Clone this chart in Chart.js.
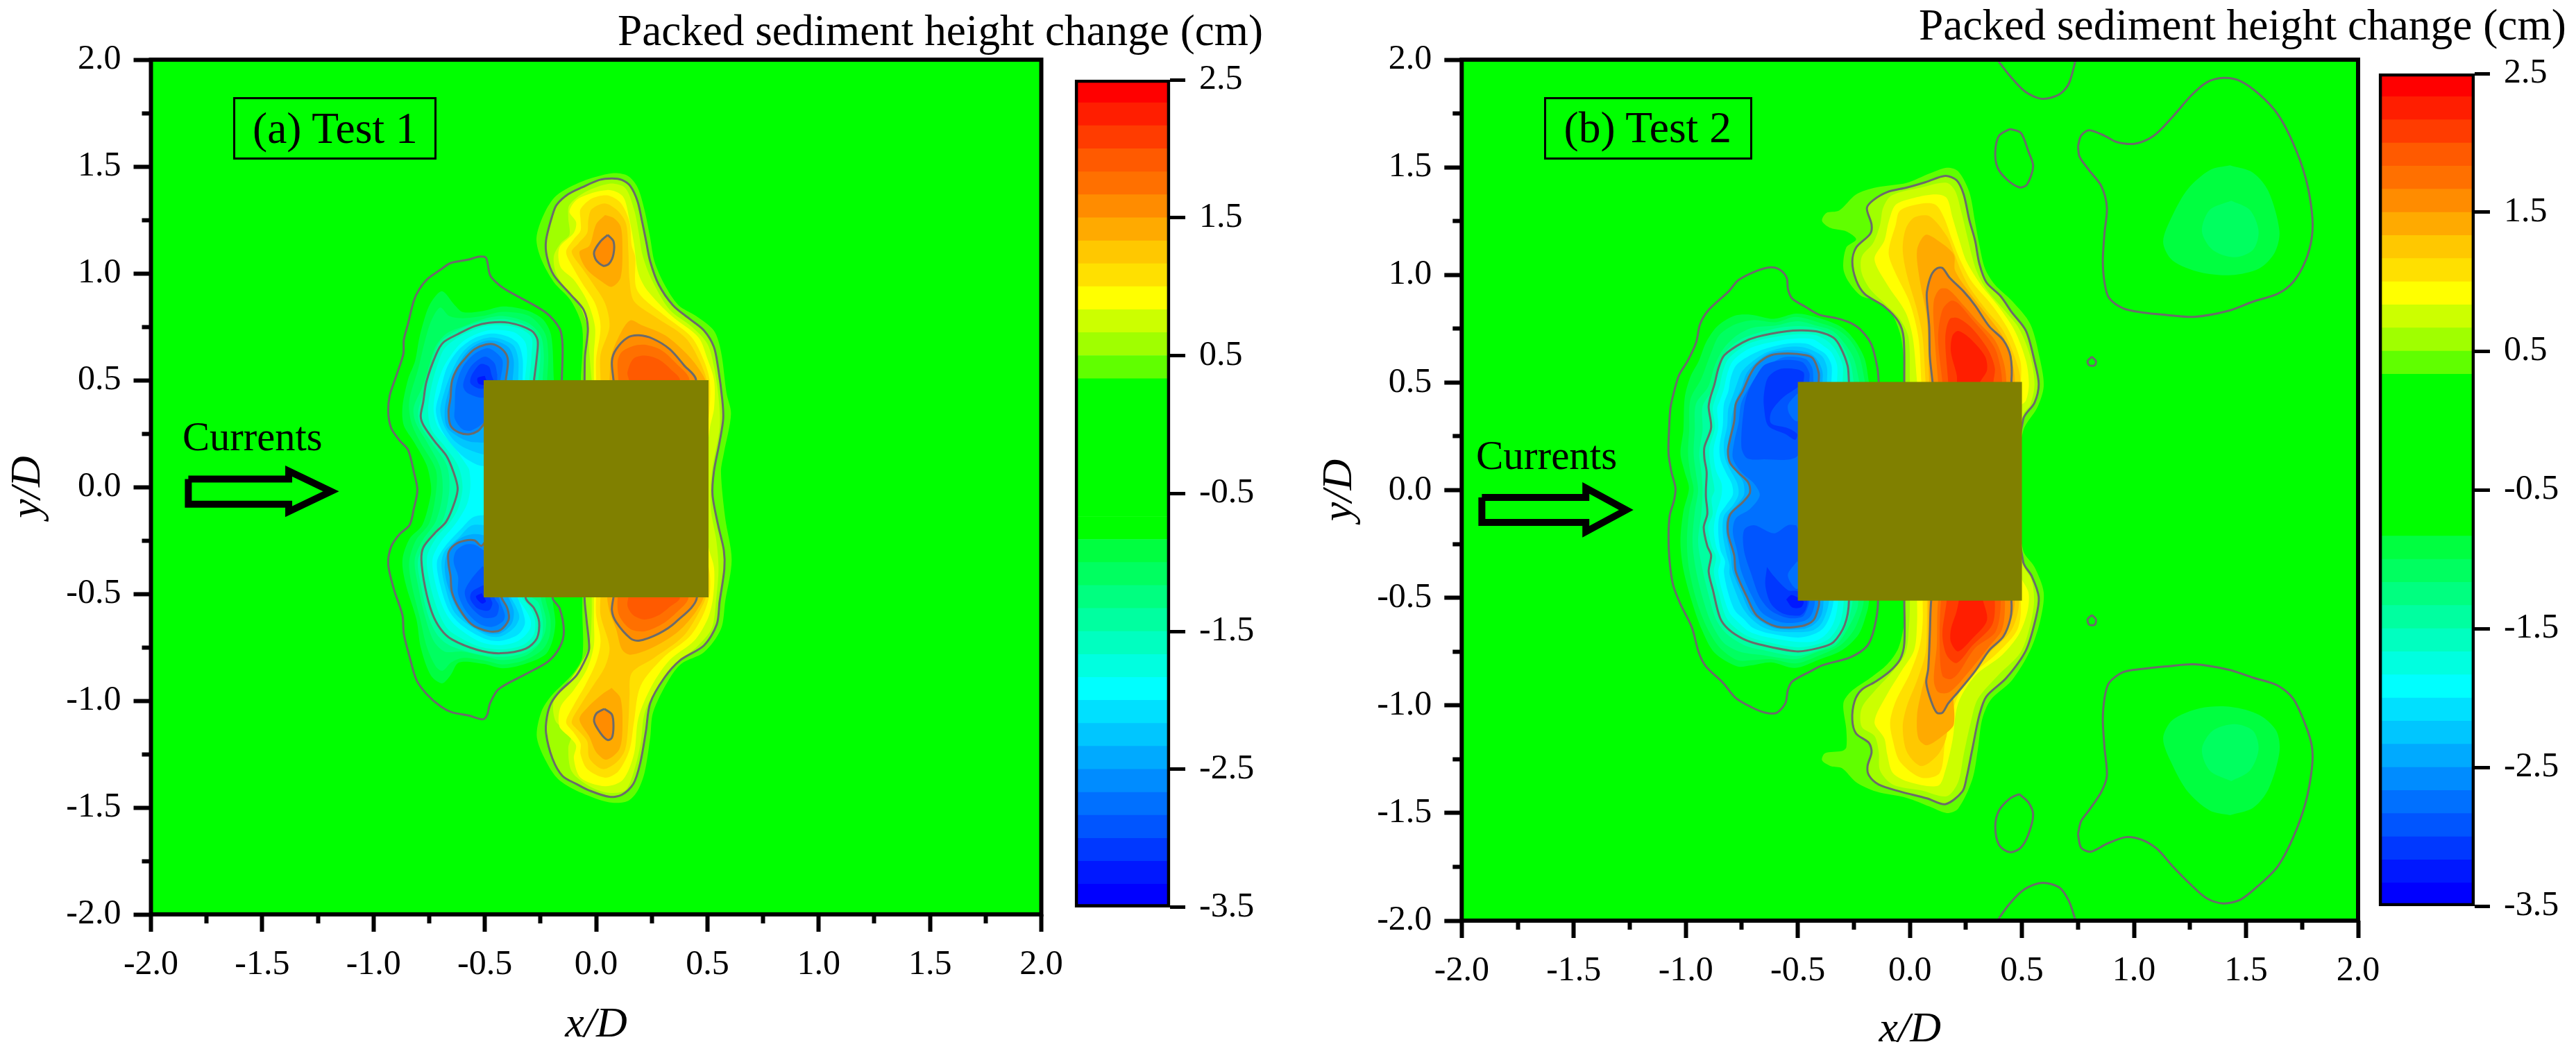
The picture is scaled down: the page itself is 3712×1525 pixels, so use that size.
<!DOCTYPE html>
<html>
<head>
<meta charset="utf-8">
<title>Packed sediment height change</title>
<script src="https://cdn.jsdelivr.net/npm/chart.js@4/dist/chart.umd.min.js"></script>
<style>
html, body { margin: 0; padding: 0; background: #fff; }
#page { position: relative; width: 3712px; height: 1525px; overflow: hidden; font-family: "Liberation Serif", serif; color: #000; }
#page canvas { position: absolute; }
.note { position: absolute; line-height: 1; white-space: nowrap; }
.tag { position: absolute; border: 3px solid #000; box-sizing: border-box; }
</style>
</head>
<body>
<div id="page"></div>
<script>
// axis ticks
var majorTicks = [-2, -1.5, -1, -0.5, 0, 0.5, 1, 1.5, 2];
var minorTicks = [-1.75, -1.25, -0.75, -0.25, 0.25, 0.75, 1.25, 1.75];
var colorbarTicks = [-3.5, -2.5, -1.5, -0.5, 0.5, 1.5, 2.5];

// colour bar, bottom to top
var bandEdges = [-3.5, -3.333, -3.167, -3, -2.833, -2.667, -2.5, -2.333, -2.167, -2, -1.833, -1.667, -1.5, -1.333, -1.167, -1, -0.833, -0.667, -0.5, -0.333, -0.167, 0, 0.167, 0.333, 0.5, 0.667, 0.833, 1, 1.167, 1.333, 1.5, 1.667, 1.833, 2, 2.167, 2.333, 2.5];
var bandColors = ['#0000ff', '#0018ff', '#0038ff', '#0055ff', '#0070ff', '#008cff', '#00aaff', '#00c6ff', '#00e0ff', '#00ffff', '#00ffe0', '#00ffc0', '#00ffa0', '#00ff80', '#00ff60', '#00ff40', '#00ff00', '#00ff00', '#00ff00', '#00ff00', '#00ff00', '#00ff00', '#00ff00', '#60ff00', '#a0ff00', '#ccff00', '#ffff00', '#ffe000', '#ffc800', '#ffaa00', '#ff8c00', '#ff7000', '#ff5a00', '#ff3c00', '#ff1e00', '#ff0000'];

// fill colour of each contour level, outermost first
var posColors = ['#60ff00', '#a0ff00', '#ccff00', '#ffff00', '#ffe000', '#ffc800', '#ffaa00', '#ff8c00', '#ff7000', '#ff5a00', '#ff3c00', '#ff1e00'];
var negColors = ['#00ff40', '#00ff60', '#00ff80', '#00ffa0', '#00ffc0', '#00ffe0', '#00ffff', '#00e0ff', '#00c6ff', '#00aaff', '#008cff', '#0070ff', '#0055ff', '#0038ff', '#0018ff'];

var fieldEdge = [[-2, -2], [2, -2], [2, 2], [-2, 2]];

// ---- Test 1 contours (x/D, y/D) ----
var aPos0333 = [[-.069,.5],[-.062,.742],[-.113,.872],[-.19,.959],[-.247,1.067],[-.268,1.165],[-.234,1.278],[-.177,1.365],[-.062,1.43],[.071,1.468],[.141,1.457],[.186,1.403],[.218,1.294],[.243,1.165],[.262,1.056],[.307,.948],[.37,.851],[.447,.802],[.529,.732],[.561,.634],[.586,.439],[.606,.342],[.574,.158],[.561,.071],[.58,-.145],[.609,-.34],[.58,-.535],[.561,-.664],[.485,-.773],[.383,-.827],[.326,-.903],[.256,-1.054],[.243,-1.173],[.218,-1.335],[.186,-1.422],[.141,-1.47],[.059,-1.476],[-.062,-1.433],[-.164,-1.373],[-.215,-1.303],[-.266,-1.173],[-.247,-1.054],[-.202,-.978],[-.101,-.87],[-.062,-.795],[-.062,-.578],[-.062,-.516]];
var aPos05 = [[-.052,.5],[-.05,.613],[-.037,.742],[-.056,.829],[-.113,.899],[-.19,.991],[-.221,1.078],[-.225,1.154],[-.196,1.273],[-.177,1.321],[-.126,1.37],[-.062,1.403],[.014,1.437],[.071,1.444],[.116,1.437],[.154,1.408],[.186,1.338],[.205,1.251],[.224,1.154],[.243,1.056],[.281,.948],[.345,.851],[.421,.786],[.485,.732],[.529,.656],[.548,.559],[.567,.407],[.571,.32],[.555,.212],[.529,.071],[.523,-.037],[.548,-.178],[.574,-.297],[.576,-.384],[.555,-.535],[.542,-.643],[.485,-.741],[.377,-.811],[.307,-.892],[.243,-1.011],[.224,-1.141],[.198,-1.293],[.167,-1.39],[.116,-1.44],[.06,-1.45],[-.031,-1.42],[-.088,-1.39],[-.151,-1.352],[-.196,-1.271],[-.225,-1.152],[-.221,-1.076],[-.202,-1.011],[-.164,-.957],[-.088,-.881],[-.043,-.795],[-.031,-.751],[-.043,-.622],[-.052,-.517]];
var aPos0667 = [[-.02,.5],[-.03,.62],[-.04,.75],[-.07,.84],[-.13,.92],[-.18,1.0],[-.19,1.08],[-.16,1.14],[-.12,1.18],[-.125,1.26],[-.12,1.32],[-.05,1.38],[.06,1.42],[.13,1.40],[.17,1.3],[.19,1.2],[.21,1.08],[.25,.97],[.33,.83],[.43,.75],[.50,.67],[.53,.56],[.55,.42],[.555,.28],[.52,.07],[.515,-.1],[.54,-.25],[.55,-.38],[.54,-.52],[.52,-.66],[.46,-.74],[.36,-.83],[.29,-.92],[.22,-1.05],[.20,-1.2],[.17,-1.33],[.13,-1.42],[.05,-1.43],[-.03,-1.40],[-.11,-1.33],[-.125,-1.22],[-.11,-1.15],[-.18,-1.10],[-.19,-1.0],[-.13,-.92],[-.07,-.83],[-.03,-.74],[-.02,-.6],[-.02,-.5]];
var aPos0833 = [[-.01,.5],[-.01,.62],[-.005,.75],[-.04,.87],[-.10,.97],[-.16,1.03],[-.165,1.12],[-.10,1.19],[-.09,1.24],[-.12,1.29],[-.08,1.35],[.05,1.39],[.12,1.36],[.15,1.25],[.17,1.14],[.19,1.0],[.23,.92],[.34,.80],[.46,.70],[.5,.60],[.53,.50],[.53,.37],[.51,.27],[.49,.07],[.49,-.1],[.505,-.28],[.53,-.38],[.525,-.52],[.50,-.62],[.44,-.72],[.33,-.81],[.25,-.93],[.19,-1.08],[.17,-1.25],[.12,-1.37],[.04,-1.40],[-.07,-1.36],[-.10,-1.27],[-.09,-1.21],[-.12,-1.17],[-.165,-1.12],[-.16,-1.03],[-.10,-.95],[-.04,-.85],[-.01,-.74],[-.01,-.62],[-.01,-.5]];
var aPos10 = [[0,.5],[0,.6],[.02,.75],[-.005,.86],[-.06,.95],[-.10,1.02],[-.135,1.10],[-.10,1.16],[-.07,1.20],[-.07,1.25],[-.07,1.30],[-.02,1.35],[.05,1.365],[.11,1.33],[.15,1.24],[.16,1.13],[.175,1.08],[.185,.92],[.31,.80],[.43,.70],[.485,.59],[.51,.50],[.51,.37],[.49,.2],[.46,0],[.48,-.25],[.51,-.40],[.51,-.5],[.48,-.6],[.42,-.70],[.30,-.8],[.2,-.93],[.17,-1.1],[.15,-1.23],[.10,-1.33],[.04,-1.36],[-.04,-1.32],[-.07,-1.25],[-.07,-1.2],[-.10,-1.15],[-.135,-1.10],[-.10,-1.02],[-.05,-.93],[0,-.82],[.02,-.72],[0,-.6],[0,-.5]];
var aPos1167 = [[.02,.5],[.02,.62],[.06,.75],[.04,.86],[-.02,.96],[-.06,1.02],[-.11,1.10],[-.08,1.14],[-.04,1.19],[-.035,1.25],[-.02,1.30],[.04,1.327],[.10,1.29],[.135,1.23],[.145,1.1],[.15,.97],[.17,.87],[.26,.80],[.40,.70],[.465,.59],[.50,.48],[.49,.3],[.45,0],[.47,-.3],[.495,-.5],[.46,-.59],[.39,-.70],[.26,-.80],[.16,-.87],[.15,-.98],[.145,-1.1],[.13,-1.23],[.09,-1.29],[.03,-1.32],[-.03,-1.27],[-.04,-1.19],[-.08,-1.14],[-.11,-1.10],[-.07,-1.02],[-.02,-.94],[.04,-.84],[.06,-.75],[.02,-.6],[.02,-.5]];
var aPos1333Top = [[.04,1.273],[0,1.23],[-.03,1.13],[-.075,1.10],[-.043,1.02],[.027,.96],[.07,.937],[.11,.98],[.118,1.13],[.11,1.22],[.078,1.26]];
var aPos1333Bot = [[.07,-.94],[.11,-.99],[.118,-1.14],[.103,-1.23],[.046,-1.276],[0,-1.24],[-.03,-1.17],[-.075,-1.087],[-.037,-1.03],[.027,-.97]];
var aPos1333Box = [[.06,.5],[.07,.62],[.115,.73],[.154,.78],[.2,.76],[.31,.71],[.41,.62],[.47,.54],[.495,.48],[.45,0],[.485,-.5],[.45,-.58],[.37,-.675],[.256,-.75],[.154,-.785],[.116,-.76],[.09,-.665],[.06,-.58],[.05,-.5],[.1,0]];
var aPos15Top = [[.052,1.18],[.078,1.15],[.078,1.09],[.059,1.046],[.033,1.035],[0,1.062],[-.009,1.10],[.02,1.15]];
var aPos15Bot = [[.037,-1.038],[.071,-1.065],[.078,-1.119],[.071,-1.173],[.052,-1.184],[.02,-1.152],[-.009,-1.097],[.001,-1.06]];
var aPos15Box = [[.078,.5],[.071,.59],[.09,.645],[.141,.699],[.192,.71],[.255,.694],[.331,.645],[.395,.57],[.449,.5],[.43,0],[.453,-.516],[.358,-.632],[.281,-.686],[.192,-.719],[.154,-.708],[.09,-.632],[.071,-.578],[.078,-.516],[.15,0]];
var aPos1667 = [[.1,.5],[.097,.59],[.116,.633],[.166,.66],[.218,.666],[.294,.64],[.358,.58],[.42,.5],[.40,0],[.415,-.516],[.358,-.59],[.294,-.643],[.218,-.675],[.154,-.665],[.103,-.6],[.097,-.516],[.15,0]];
var aPos1833 = [[.148,.5],[.141,.537],[.167,.60],[.218,.615],[.281,.597],[.338,.548],[.377,.5],[.36,0],[.377,-.516],[.332,-.56],[.281,-.6],[.218,-.62],[.167,-.6],[.141,-.556],[.148,-.5],[.2,0]];

var aNeg0833 = [[-.19,.5],[-.202,.71],[-.24,.786],[-.317,.829],[-.419,.845],[-.508,.824],[-.597,.818],[-.635,.851],[-.692,.916],[-.737,.872],[-.762,.818],[-.794,.699],[-.813,.591],[-.845,.504],[-.87,.374],[-.864,.288],[-.819,.212],[-.762,.104],[-.743,.017],[-.743,-.037],[-.781,-.178],[-.838,-.242],[-.87,-.34],[-.857,-.448],[-.807,-.621],[-.788,-.751],[-.743,-.881],[-.692,-.919],[-.654,-.881],[-.616,-.821],[-.508,-.827],[-.419,-.848],[-.317,-.827],[-.228,-.784],[-.196,-.719],[-.183,-.632],[-.196,-.516]];
var aNeg05 = [[-.154,.5],[-.151,.667],[-.164,.742],[-.228,.818],[-.393,.916],[-.438,.948],[-.476,.991],[-.495,1.073],[-.527,1.078],[-.571,1.065],[-.654,1.048],[-.698,1.018],[-.756,.975],[-.794,.926],[-.819,.872],[-.845,.764],[-.864,.688],[-.866,.623],[-.896,.526],[-.927,.429],[-.934,.353],[-.921,.277],[-.883,.218],[-.845,.174],[-.819,.071],[-.803,-.015],[-.819,-.102],[-.838,-.178],[-.883,-.221],[-.921,-.28],[-.934,-.361],[-.908,-.48],[-.87,-.6],[-.864,-.686],[-.838,-.795],[-.807,-.903],[-.762,-.968],[-.698,-1.027],[-.648,-1.054],[-.571,-1.07],[-.508,-1.087],[-.489,-1.065],[-.476,-1.011],[-.438,-.946],[-.317,-.876],[-.215,-.816],[-.164,-.751],[-.145,-.675],[-.164,-.567],[-.196,-.516]];
var aNeg10 = [[-.22,.5],[-.215,.62],[-.23,.72],[-.30,.80],[-.42,.82],[-.51,.80],[-.60,.79],[-.66,.80],[-.70,.84],[-.74,.78],[-.77,.68],[-.80,.55],[-.84,.40],[-.83,.30],[-.79,.21],[-.72,.08],[-.72,-.03],[-.75,-.17],[-.81,-.25],[-.84,-.35],[-.83,-.45],[-.79,-.62],[-.76,-.75],[-.72,-.84],[-.69,-.86],[-.65,-.82],[-.60,-.80],[-.51,-.81],[-.42,-.83],[-.32,-.81],[-.24,-.76],[-.21,-.70],[-.205,-.62],[-.23,-.5]];
var aNeg1167 = [[-.24,.5],[-.235,.62],[-.25,.71],[-.31,.77],[-.42,.80],[-.51,.785],[-.60,.75],[-.67,.72],[-.72,.66],[-.75,.57],[-.78,.47],[-.82,.37],[-.81,.30],[-.76,.21],[-.70,.09],[-.69,-.03],[-.72,-.16],[-.78,-.25],[-.815,-.34],[-.80,-.46],[-.77,-.60],[-.73,-.72],[-.68,-.77],[-.60,-.77],[-.51,-.79],[-.42,-.81],[-.32,-.79],[-.26,-.74],[-.23,-.68],[-.225,-.62],[-.25,-.5]];
var aNeg1333 = [[-.26,.5],[-.25,.62],[-.26,.70],[-.30,.75],[-.40,.785],[-.49,.78],[-.55,.765],[-.63,.73],[-.70,.68],[-.735,.60],[-.77,.46],[-.80,.35],[-.79,.29],[-.74,.21],[-.67,.10],[-.66,-.02],[-.69,-.16],[-.75,-.24],[-.80,-.34],[-.785,-.47],[-.755,-.60],[-.715,-.69],[-.66,-.74],[-.54,-.78],[-.43,-.795],[-.32,-.775],[-.25,-.72],[-.24,-.63],[-.26,-.54],[-.3,-.5]];
var aNeg15 = [[-.279,.5],[-.266,.613],[-.263,.688],[-.291,.732],[-.393,.769],[-.482,.769],[-.546,.753],[-.622,.715],[-.686,.677],[-.718,.623],[-.762,.494],[-.777,.396],[-.788,.331],[-.775,.288],[-.724,.212],[-.673,.147],[-.641,.071],[-.622,-.005],[-.635,-.069],[-.673,-.161],[-.724,-.215],[-.775,-.28],[-.785,-.34],[-.768,-.47],[-.737,-.589],[-.698,-.665],[-.648,-.713],[-.533,-.762],[-.431,-.778],[-.317,-.757],[-.266,-.708],[-.256,-.632],[-.279,-.567],[-.317,-.516]];
var aNeg1667 = [[-.30,.5],[-.29,.62],[-.29,.70],[-.34,.74],[-.40,.755],[-.49,.755],[-.55,.735],[-.62,.70],[-.68,.65],[-.71,.58],[-.74,.47],[-.755,.36],[-.74,.27],[-.68,.19],[-.62,.10],[-.60,0],[-.62,-.10],[-.66,-.17],[-.72,-.24],[-.76,-.33],[-.745,-.46],[-.71,-.58],[-.67,-.66],[-.62,-.70],[-.53,-.745],[-.43,-.76],[-.33,-.74],[-.28,-.69],[-.275,-.62],[-.30,-.56],[-.34,-.5]];
var aNeg1833 = [[-.32,.5],[-.31,.62],[-.32,.68],[-.37,.725],[-.47,.735],[-.54,.715],[-.60,.68],[-.65,.62],[-.69,.55],[-.72,.45],[-.73,.36],[-.71,.28],[-.64,.19],[-.58,.10],[-.57,.08],[-.565,0],[-.58,-.08],[-.63,-.17],[-.70,-.26],[-.735,-.34],[-.72,-.46],[-.68,-.58],[-.63,-.65],[-.52,-.725],[-.43,-.74],[-.35,-.72],[-.30,-.67],[-.295,-.62],[-.34,-.54],[-.38,-.5]];
var aNeg20Top = [[-.33,.5],[-.33,.6],[-.35,.67],[-.40,.705],[-.47,.718],[-.55,.695],[-.62,.64],[-.67,.56],[-.70,.45],[-.72,.36],[-.70,.28],[-.65,.2],[-.58,.13],[-.50,.10],[-.45,.2]];
var aNeg20Bot = [[-.48,-.13],[-.55,-.14],[-.61,-.20],[-.68,-.28],[-.715,-.35],[-.70,-.46],[-.66,-.58],[-.60,-.65],[-.50,-.71],[-.43,-.72],[-.35,-.69],[-.32,-.64],[-.33,-.58],[-.36,-.5],[-.45,-.3]];
var aNeg2167Top = [[-.35,.5],[-.35,.6],[-.37,.66],[-.42,.69],[-.48,.70],[-.55,.675],[-.60,.63],[-.64,.56],[-.68,.45],[-.70,.36],[-.68,.28],[-.63,.21],[-.56,.17],[-.48,.16]];
var aNeg2167Bot = [[-.48,-.18],[-.56,-.18],[-.62,-.24],[-.68,-.30],[-.695,-.36],[-.68,-.46],[-.64,-.58],[-.58,-.64],[-.49,-.695],[-.43,-.70],[-.37,-.66],[-.345,-.61],[-.36,-.56],[-.39,-.5]];
var aNeg2333Top = [[-.375,.5],[-.37,.59],[-.39,.65],[-.44,.68],[-.49,.685],[-.55,.66],[-.59,.62],[-.63,.55],[-.66,.46],[-.68,.36],[-.67,.28],[-.61,.23],[-.55,.21],[-.48,.22]];
var aNeg2333Bot = [[-.48,-.23],[-.55,-.22],[-.61,-.24],[-.66,-.29],[-.68,-.36],[-.67,-.45],[-.63,-.56],[-.57,-.64],[-.49,-.685],[-.43,-.685],[-.38,-.64],[-.37,-.58],[-.40,-.5]];
var aNeg25Top = [[-.406,.5],[-.396,.591],[-.412,.634],[-.457,.667],[-.495,.667],[-.546,.645],[-.584,.607],[-.622,.558],[-.648,.494],[-.654,.418],[-.663,.353],[-.654,.288],[-.616,.255],[-.571,.247],[-.533,.261],[-.509,.288],[-.47,.35]];
var aNeg25Bot = [[-.47,-.2],[-.514,-.275],[-.546,-.25],[-.59,-.251],[-.635,-.27],[-.663,-.307],[-.663,-.361],[-.654,-.416],[-.648,-.491],[-.616,-.567],[-.559,-.643],[-.482,-.675],[-.431,-.67],[-.393,-.621],[-.399,-.567],[-.425,-.516],[-.45,-.4]];
var aNeg2667Top = [[-.43,.5],[-.42,.59],[-.45,.63],[-.49,.65],[-.55,.62],[-.6,.56],[-.63,.47],[-.635,.37],[-.635,.32],[-.6,.27],[-.56,.265],[-.5,.31]];
var aNeg2667Bot = [[-.5,-.30],[-.545,-.27],[-.59,-.27],[-.63,-.30],[-.64,-.35],[-.62,-.42],[-.62,-.50],[-.585,-.58],[-.525,-.64],[-.47,-.655],[-.42,-.63],[-.41,-.6],[-.43,-.54]];
var aNeg2833Top = [[-.444,.526],[-.457,.58],[-.50,.61],[-.558,.57],[-.59,.51],[-.597,.47],[-.578,.44],[-.509,.418],[-.45,.45]];
var aNeg2833Bot = [[-.51,-.37],[-.558,-.427],[-.59,-.49],[-.571,-.55],[-.508,-.61],[-.45,-.605],[-.437,-.556],[-.457,-.516],[-.47,-.42]];
var aNeg30Top = [[-.47,.526],[-.482,.564],[-.52,.575],[-.558,.526],[-.565,.488],[-.54,.466],[-.509,.46],[-.46,.48]];
var aNeg30Bot = [[-.509,-.46],[-.558,-.49],[-.565,-.524],[-.533,-.567],[-.482,-.578],[-.466,-.545],[-.476,-.516],[-.47,-.47]];
var aNeg3167Top = [[-.50,.52],[-.533,.51],[-.527,.483],[-.49,.48]];
var aNeg3167Bot = [[-.514,-.497],[-.54,-.513],[-.514,-.545],[-.495,-.535]];

var aPosLevels = [[aPos0333], [aPos05], [aPos0667], [aPos0833], [aPos10], [aPos1167], [aPos1333Top, aPos1333Bot, aPos1333Box], [aPos15Top, aPos15Bot, aPos15Box], [aPos1667], [aPos1833]];
var aNegLevels = [[aNeg0833], [aNeg10], [aNeg1167], [aNeg1333], [aNeg15], [aNeg1667], [aNeg1833], [aNeg20Top, aNeg20Bot], [aNeg2167Top, aNeg2167Bot], [aNeg2333Top, aNeg2333Bot], [aNeg25Top, aNeg25Bot], [aNeg2667Top, aNeg2667Bot], [aNeg2833Top, aNeg2833Bot], [aNeg30Top, aNeg30Bot], [aNeg3167Top, aNeg3167Bot]];
var aLines = [aPos05, aPos15Top, aPos15Bot, aPos15Box, aNeg05, aNeg15, aNeg25Top, aNeg25Bot];
var aSquare = [[-.505, -.516], [.505, -.516], [.505, .5], [-.505, .5]];
var aArrow = [[-1.832, .037], [-1.381, .037], [-1.381, .075], [-1.191, -.02], [-1.381, -.115], [-1.381, -.08], [-1.832, -.08]];

// ---- Test 2 contours ----
var bPos0333 = [[-.019,.503],[-.044,.729],[-.114,.869],[-.215,.901],[-.272,.966],[-.297,1.03],[-.284,1.127],[-.24,1.165],[-.284,1.202],[-.354,1.218],[-.392,1.251],[-.373,1.288],[-.316,1.299],[-.24,1.374],[-.152,1.406],[-.013,1.428],[.088,1.471],[.164,1.498],[.215,1.482],[.265,1.385],[.291,1.245],[.31,1.138],[.335,1.03],[.379,.955],[.455,.88],[.537,.772],[.582,.6],[.597,.482],[.569,.385],[.506,.277],[.47,0],[.506,-.282],[.556,-.357],[.597,-.475],[.582,-.604],[.537,-.744],[.455,-.884],[.36,-.975],[.322,-1.067],[.303,-1.206],[.278,-1.346],[.215,-1.48],[.164,-1.5],[.088,-1.47],[-.013,-1.43],[-.152,-1.40],[-.24,-1.357],[-.303,-1.292],[-.354,-1.282],[-.392,-1.255],[-.379,-1.222],[-.303,-1.212],[-.284,-1.196],[-.284,-1.11],[-.297,-.991],[-.265,-.938],[-.177,-.873],[-.101,-.809],[-.051,-.733],[-.025,-.615],[-.019,-.513]];
var bPos05 = [[-.025,.503],[-.028,.708],[-.051,.783],[-.114,.853],[-.202,.912],[-.24,.976],[-.257,1.062],[-.24,1.127],[-.177,1.191],[-.171,1.234],[-.192,1.31],[-.164,1.347],[-.101,1.385],[-.013,1.406],[.076,1.433],[.158,1.46],[.209,1.439],[.24,1.374],[.265,1.256],[.291,1.159],[.31,1.052],[.341,.966],[.405,.901],[.455,.826],[.518,.74],[.556,.6],[.575,.492],[.556,.406],[.506,.331],[.47,0],[.506,-.335],[.544,-.4],[.575,-.497],[.562,-.594],[.518,-.744],[.43,-.873],[.341,-.959],[.31,-1.045],[.278,-1.206],[.253,-1.335],[.234,-1.4],[.158,-1.459],[.076,-1.432],[-.044,-1.4],[-.139,-1.368],[-.183,-1.325],[-.189,-1.282],[-.171,-1.217],[-.183,-1.174],[-.24,-1.131],[-.257,-1.067],[-.247,-.981],[-.215,-.927],[-.152,-.889],[-.089,-.841],[-.044,-.787],[-.025,-.712],[-.025,-.513]];
var bPos0667 = [[0,.503],[-.006,.708],[-.044,.794],[-.114,.869],[-.177,.933],[-.215,1.009],[-.215,1.084],[-.164,1.148],[-.133,1.234],[-.12,1.31],[-.082,1.369],[.051,1.406],[.164,1.428],[.202,1.39],[.228,1.299],[.253,1.191],[.278,1.084],[.297,1.019],[.341,.933],[.43,.826],[.487,.751],[.537,.622],[.556,.492],[.537,.396],[.506,.353],[.47,0],[.506,-.346],[.544,-.42],[.554,-.518],[.537,-.626],[.493,-.755],[.392,-.862],[.303,-.97],[.272,-1.077],[.24,-1.228],[.215,-1.357],[.164,-1.422],[.051,-1.395],[-.076,-1.368],[-.133,-1.303],[-.139,-1.217],[-.158,-1.142],[-.215,-1.099],[-.215,-1.013],[-.152,-.927],[-.076,-.841],[-.019,-.755],[-.003,-.615],[0,-.513]];
var bPos0833 = [[.032,.503],[.013,.708],[-.019,.826],[-.101,.955],[-.158,1.073],[-.114,1.159],[-.095,1.245],[-.063,1.326],[.019,1.358],[.114,1.374],[.164,1.358],[.19,1.267],[.221,1.159],[.253,1.062],[.316,.955],[.392,.858],[.468,.74],[.518,.6],[.531,.492],[.518,.417],[.49,.385],[.45,0],[.49,-.389],[.529,-.475],[.525,-.561],[.487,-.669],[.411,-.766],[.291,-.862],[.215,-.991],[.19,-1.163],[.158,-1.303],[.126,-1.373],[0,-1.357],[-.076,-1.314],[-.101,-1.228],[-.114,-1.153],[-.158,-1.077],[-.101,-.948],[-.038,-.841],[.019,-.744],[.032,-.615],[.032,-.513]];
var bPos10 = [[.051,.503],[.038,.708],[0,.869],[-.069,1.019],[-.095,1.105],[-.063,1.234],[-.044,1.299],[.051,1.331],[.114,1.326],[.152,1.267],[.19,1.159],[.228,1.062],[.278,.966],[.367,.858],[.442,.74],[.493,.6],[.495,.503],[.44,0],[.495,-.518],[.48,-.647],[.392,-.755],[.253,-.884],[.19,-1.024],[.158,-1.163],[.133,-1.314],[.051,-1.336],[-.044,-1.262],[-.076,-1.163],[-.088,-1.077],[-.063,-.981],[0,-.852],[.044,-.723],[.057,-.615],[.057,-.513]];
var bPos1167 = [[.07,.503],[.057,.708],[.032,.837],[-.013,.998],[-.032,1.116],[-.019,1.213],[.019,1.267],[.088,1.272],[.164,1.181],[.196,1.105],[.228,1.019],[.265,.944],[.341,.837],[.417,.74],[.474,.6],[.493,.503],[.43,0],[.487,-.513],[.455,-.647],[.367,-.744],[.24,-.873],[.177,-.991],[.164,-1.142],[.126,-1.228],[.051,-1.282],[-.013,-1.217],[-.032,-1.099],[-.013,-1.002],[.032,-.884],[.07,-.755],[.076,-.615],[.076,-.513]];
var bPos1333 = [[.086,.503],[.076,.794],[.044,.976],[.032,1.116],[.07,1.186],[.126,1.159],[.196,1.095],[.202,1.019],[.278,.901],[.367,.783],[.424,.697],[.455,.6],[.468,.503],[.42,0],[.468,-.513],[.43,-.658],[.341,-.744],[.202,-.884],[.196,-1.088],[.152,-1.137],[.076,-1.185],[.038,-1.153],[.032,-1.045],[.051,-.938],[.076,-.83],[.082,-.669],[.082,-.513]];
var bPos15 = [[.101,.503],[.089,.622],[.086,.762],[.076,.88],[.076,.923],[.095,.998],[.12,1.03],[.145,1.032],[.177,.987],[.24,.923],[.291,.858],[.354,.761],[.417,.697],[.449,.622],[.453,.503],[.41,0],[.453,-.513],[.449,-.594],[.417,-.68],[.354,-.744],[.291,-.841],[.215,-.938],[.171,-.991],[.145,-1.034],[.12,-1.034],[.095,-.981],[.073,-.895],[.082,-.83],[.089,-.669],[.095,-.513],[.15,0]];
var bPos1667 = [[.126,.503],[.107,.762],[.107,.88],[.133,.933],[.171,.933],[.24,.858],[.303,.783],[.379,.697],[.417,.6],[.43,.503],[.4,0],[.424,-.513],[.411,-.647],[.348,-.733],[.265,-.841],[.177,-.938],[.126,-.938],[.107,-.884],[.12,-.723],[.126,-.513],[.2,0]];
var bPos1833 = [[.145,.503],[.126,.708],[.145,.837],[.183,.88],[.215,.869],[.278,.793],[.341,.718],[.386,.643],[.411,.503],[.38,0],[.405,-.513],[.382,-.658],[.291,-.733],[.215,-.852],[.183,-.878],[.145,-.862],[.133,-.723],[.139,-.513],[.2,0]];
var bPos20 = [[.171,.503],[.158,.708],[.177,.794],[.215,.799],[.278,.751],[.348,.654],[.379,.568],[.373,.503],[.35,0],[.379,-.513],[.367,-.626],[.278,-.723],[.209,-.803],[.164,-.766],[.145,-.669],[.164,-.513],[.2,0]];
var bPos2167 = [[.21,.49],[.209,.535],[.183,.643],[.19,.718],[.215,.74],[.265,.708],[.335,.622],[.344,.557],[.31,.49],[.3,0],[.322,-.49],[.344,-.604],[.278,-.69],[.215,-.749],[.183,-.706],[.183,-.647],[.209,-.561],[.221,-.49],[.25,0]];

var bNeg0833 = [[-.183,.503],[-.202,.611],[-.247,.697],[-.303,.756],[-.405,.799],[-.506,.82],[-.607,.796],[-.708,.815],[-.784,.81],[-.86,.761],[-.91,.686],[-.942,.6],[-.98,.525],[-1.005,.428],[-1.011,.277],[-1.024,.17],[-1.005,.084],[-.986,.009],[-1.011,-.099],[-1.024,-.239],[-1.011,-.368],[-.973,-.518],[-.929,-.647],[-.872,-.755],[-.771,-.819],[-.708,-.814],[-.619,-.8],[-.512,-.826],[-.405,-.787],[-.303,-.744],[-.228,-.669],[-.19,-.561],[-.183,-.513]];
var bNeg05 = [[-.139,.503],[-.145,.568],[-.171,.675],[-.215,.74],[-.265,.777],[-.329,.799],[-.405,.815],[-.468,.853],[-.525,.89],[-.544,.933],[-.55,.987],[-.582,1.025],[-.626,1.035],[-.683,1.019],[-.765,.976],[-.809,.923],[-.898,.837],[-.936,.772],[-.954,.686],[-.992,.6],[-1.03,.535],[-1.049,.471],[-1.068,.385],[-1.075,.277],[-1.077,.17],[-1.064,.084],[-1.046,.009],[-1.052,-.045],[-1.072,-.12],[-1.077,-.217],[-1.072,-.335],[-1.056,-.443],[-1.024,-.529],[-.973,-.637],[-.942,-.755],[-.91,-.819],[-.834,-.895],[-.778,-.965],[-.708,-1.008],[-.645,-1.034],[-.594,-1.034],[-.556,-.991],[-.544,-.927],[-.525,-.889],[-.442,-.841],[-.392,-.814],[-.265,-.776],[-.19,-.723],[-.158,-.637],[-.142,-.513]];
var bNeg10 = [[-.2,.5],[-.225,.62],[-.27,.70],[-.33,.75],[-.41,.78],[-.51,.805],[-.60,.78],[-.70,.79],[-.78,.77],[-.85,.72],[-.89,.63],[-.93,.52],[-.98,.42],[-.985,.28],[-.99,.17],[-.98,.08],[-.965,0],[-.985,-.1],[-.995,-.24],[-.985,-.37],[-.95,-.52],[-.905,-.64],[-.85,-.73],[-.77,-.79],[-.70,-.79],[-.62,-.785],[-.51,-.805],[-.41,-.77],[-.31,-.72],[-.25,-.65],[-.215,-.56],[-.205,-.5]];
var bNeg1167 = [[-.225,.5],[-.25,.61],[-.29,.68],[-.345,.74],[-.42,.765],[-.50,.785],[-.60,.765],[-.70,.755],[-.77,.72],[-.83,.66],[-.87,.58],[-.90,.48],[-.955,.40],[-.96,.28],[-.965,.17],[-.955,.08],[-.945,0],[-.96,-.1],[-.97,-.24],[-.955,-.37],[-.925,-.50],[-.885,-.62],[-.83,-.71],[-.76,-.75],[-.67,-.765],[-.51,-.785],[-.41,-.75],[-.33,-.72],[-.27,-.63],[-.235,-.55],[-.23,-.5]];
var bNeg1333 = [[-.25,.5],[-.265,.59],[-.30,.67],[-.345,.72],[-.41,.75],[-.49,.762],[-.58,.755],[-.68,.73],[-.755,.70],[-.825,.64],[-.855,.57],[-.88,.47],[-.925,.39],[-.925,.28],[-.94,.17],[-.93,.08],[-.925,0],[-.93,-.1],[-.945,-.24],[-.925,-.37],[-.90,-.48],[-.865,-.60],[-.815,-.67],[-.74,-.72],[-.67,-.74],[-.51,-.77],[-.41,-.745],[-.33,-.71],[-.28,-.62],[-.255,-.5]];
var bNeg15 = [[-.272,.503],[-.278,.578],[-.31,.664],[-.341,.708],[-.405,.735],[-.48,.742],[-.55,.738],[-.683,.712],[-.746,.686],[-.828,.627],[-.854,.568],[-.872,.492],[-.891,.428],[-.898,.385],[-.887,.29],[-.917,.2],[-.917,.148],[-.907,.084],[-.91,.009],[-.91,-.034],[-.904,-.11],[-.92,-.174],[-.904,-.26],[-.887,-.303],[-.898,-.378],[-.879,-.464],[-.847,-.594],[-.809,-.647],[-.746,-.69],[-.67,-.717],[-.506,-.749],[-.405,-.733],[-.341,-.706],[-.291,-.626],[-.272,-.513]];
var bNeg1667 = [[-.30,.5],[-.30,.58],[-.33,.65],[-.365,.69],[-.42,.72],[-.48,.725],[-.55,.72],[-.68,.695],[-.74,.67],[-.81,.61],[-.835,.55],[-.85,.48],[-.87,.42],[-.88,.38],[-.87,.29],[-.895,.2],[-.895,.15],[-.885,.08],[-.872,0],[-.885,-.04],[-.88,-.11],[-.90,-.17],[-.885,-.26],[-.865,-.31],[-.875,-.38],[-.855,-.47],[-.825,-.58],[-.79,-.63],[-.73,-.675],[-.66,-.70],[-.50,-.73],[-.41,-.715],[-.355,-.685],[-.31,-.61],[-.295,-.5]];
var bNeg1833 = [[-.325,.5],[-.325,.58],[-.35,.64],[-.385,.67],[-.43,.70],[-.48,.705],[-.55,.70],[-.67,.675],[-.73,.65],[-.79,.60],[-.815,.54],[-.83,.47],[-.85,.41],[-.86,.38],[-.855,.29],[-.875,.2],[-.875,.15],[-.865,.09],[-.84,.03],[-.84,-.02],[-.85,-.06],[-.865,-.11],[-.875,-.18],[-.865,-.26],[-.845,-.32],[-.855,-.38],[-.835,-.48],[-.805,-.57],[-.77,-.61],[-.72,-.655],[-.65,-.68],[-.50,-.705],[-.42,-.70],[-.37,-.665],[-.335,-.60],[-.32,-.5]];
var bNeg20 = [[-.35,.5],[-.35,.58],[-.375,.63],[-.41,.655],[-.46,.68],[-.55,.68],[-.65,.655],[-.715,.625],[-.775,.58],[-.80,.52],[-.81,.46],[-.83,.40],[-.835,.30],[-.85,.2],[-.845,.14],[-.82,.08],[-.795,.03],[-.79,-.02],[-.82,-.07],[-.85,-.12],[-.855,-.2],[-.845,-.28],[-.825,-.33],[-.83,-.38],[-.81,-.48],[-.78,-.56],[-.74,-.6],[-.70,-.64],[-.63,-.665],[-.50,-.685],[-.43,-.67],[-.385,-.64],[-.355,-.58],[-.34,-.5]];
var bNeg2167 = [[-.37,.5],[-.37,.57],[-.39,.62],[-.425,.645],[-.48,.665],[-.55,.665],[-.64,.64],[-.70,.60],[-.75,.55],[-.77,.50],[-.79,.44],[-.81,.38],[-.815,.30],[-.83,.22],[-.825,.15],[-.80,.09],[-.77,.03],[-.765,-.02],[-.79,-.07],[-.83,-.12],[-.835,-.2],[-.82,-.29],[-.805,-.35],[-.805,-.39],[-.775,-.48],[-.75,-.54],[-.715,-.59],[-.66,-.635],[-.60,-.655],[-.49,-.66],[-.43,-.65],[-.395,-.62],[-.37,-.56],[-.36,-.5]];
var bNeg2333 = [[-.39,.5],[-.39,.55],[-.41,.60],[-.445,.635],[-.50,.648],[-.55,.65],[-.63,.635],[-.69,.59],[-.73,.54],[-.75,.48],[-.775,.42],[-.795,.34],[-.80,.28],[-.815,.2],[-.81,.15],[-.785,.1],[-.745,.04],[-.74,-.02],[-.77,-.065],[-.815,-.12],[-.82,-.2],[-.80,-.30],[-.79,-.38],[-.75,-.48],[-.71,-.57],[-.65,-.62],[-.59,-.645],[-.48,-.645],[-.43,-.625],[-.395,-.58],[-.385,-.5]];
var bNeg25 = [[-.407,.503],[-.407,.546],[-.432,.611],[-.464,.627],[-.544,.635],[-.62,.627],[-.683,.584],[-.714,.535],[-.746,.46],[-.777,.401],[-.784,.32],[-.803,.235],[-.812,.181],[-.803,.127],[-.768,.084],[-.721,.035],[-.714,-.013],[-.746,-.056],[-.803,-.115],[-.812,-.196],[-.784,-.303],[-.777,-.378],[-.727,-.497],[-.683,-.583],[-.594,-.634],[-.48,-.631],[-.43,-.604],[-.407,-.54],[-.405,-.513]];
var bNeg2667 = [[-.43,.503],[-.436,.568],[-.468,.611],[-.569,.616],[-.67,.546],[-.708,.492],[-.752,.406],[-.765,.31],[-.784,.224],[-.79,.148],[-.752,.084],[-.695,.03],[-.67,-.024],[-.714,-.088],[-.777,-.131],[-.79,-.196],[-.771,-.282],[-.752,-.378],[-.708,-.486],[-.657,-.572],[-.569,-.615],[-.48,-.61],[-.442,-.583],[-.424,-.513]];
var bNeg2833Top = [[-.449,.503],[-.449,.546],[-.48,.595],[-.556,.605],[-.645,.584],[-.683,.535],[-.721,.46],[-.74,.385],[-.752,.202],[-.727,.148],[-.657,.143],[-.507,.154],[-.45,.3]];
var bNeg2833Bot = [[-.507,-.163],[-.544,-.163],[-.607,-.201],[-.695,-.163],[-.74,-.185],[-.74,-.282],[-.708,-.389],[-.67,-.497],[-.619,-.561],[-.544,-.594],[-.48,-.588],[-.458,-.551],[-.449,-.513],[-.45,-.3]];
var bRiseTop = [[-.503,.449],[-.544,.396],[-.537,.353],[-.503,.32],[-.45,.39]];
var bRiseBot = [[-.503,-.33],[-.544,-.389],[-.531,-.432],[-.503,-.459],[-.45,-.39]];
var bNeg30Top = [[-.474,.503],[-.474,.546],[-.506,.562],[-.582,.562],[-.632,.525],[-.651,.449],[-.651,.385],[-.632,.299],[-.556,.261],[-.512,.234],[-.503,.261],[-.544,.288],[-.619,.31],[-.619,.363],[-.569,.428],[-.503,.476]];
var bNeg30Bot = [[-.638,-.357],[-.645,-.443],[-.619,-.529],[-.569,-.572],[-.493,-.583],[-.468,-.561],[-.458,-.513],[-.5,-.47],[-.544,-.465],[-.607,-.4]];
var bNeg3167 = [[-.552,-.508],[-.531,-.488],[-.503,-.497],[-.474,-.518],[-.487,-.545],[-.525,-.545]];

// shallow scour and ridges downstream
var bFarTop = [[.75,1.598],[.764,1.647],[.799,1.672],[.868,1.647],[.923,1.617],[1.006,1.61],[1.089,1.647],[1.172,1.734],[1.255,1.833],[1.324,1.894],[1.4,1.915],[1.476,1.9],[1.559,1.839],[1.642,1.746],[1.711,1.61],[1.766,1.45],[1.794,1.29],[1.794,1.178],[1.766,1.067],[1.711,.968],[1.642,.913],[1.531,.876],[1.421,.833],[1.269,.805],[1.144,.814],[1.034,.826],[.951,.845],[.888,.894],[.868,.968],[.861,1.067],[.868,1.191],[.879,1.314],[.854,1.413],[.799,1.487],[.757,1.549]];
var bFarBot = [[.75,-1.599],[.764,-1.661],[.806,-1.68],[.881,-1.642],[.964,-1.612],[1.034,-1.624],[1.103,-1.667],[1.172,-1.747],[1.255,-1.834],[1.324,-1.896],[1.4,-1.92],[1.476,-1.902],[1.559,-1.834],[1.642,-1.747],[1.711,-1.612],[1.766,-1.451],[1.794,-1.291],[1.794,-1.192],[1.766,-1.093],[1.711,-.97],[1.642,-.908],[1.531,-.871],[1.421,-.834],[1.269,-.809],[1.144,-.819],[1.034,-.831],[.951,-.846],[.888,-.896],[.868,-.97],[.861,-1.068],[.868,-1.192],[.879,-1.328],[.854,-1.402],[.799,-1.488],[.764,-1.538]];
var bOvalTop = [[.446,1.678],[.495,1.66],[.529,1.573],[.55,1.505],[.522,1.419],[.488,1.407],[.432,1.444],[.391,1.499],[.381,1.573],[.398,1.647]];
var bOvalBot = [[.488,-1.412],[.529,-1.451],[.55,-1.507],[.529,-1.599],[.495,-1.661],[.446,-1.682],[.398,-1.649],[.381,-1.562],[.398,-1.488],[.446,-1.433]];
var bEdgeTop = [[.39,2.0],[.446,1.925],[.515,1.851],[.591,1.818],[.667,1.839],[.709,1.888],[.74,2.0]];
var bEdgeBot = [[.39,-2.0],[.446,-1.92],[.515,-1.852],[.591,-1.824],[.667,-1.846],[.709,-1.908],[.74,-2.0]];
var bDotTop = [[.812,.62],[.83,.6],[.825,.58],[.80,.58],[.793,.6]];
var bDotBot = [[.812,-.58],[.83,-.6],[.825,-.625],[.80,-.625],[.793,-.6]];
var bFar0833Top = [[1.428,1.509],[1.531,1.475],[1.6,1.388],[1.649,1.203],[1.628,1.104],[1.559,1.03],[1.434,.999],[1.296,1.012],[1.172,1.067],[1.13,1.154],[1.172,1.277],[1.241,1.4],[1.338,1.487]];
var bFar10Top = [[1.434,1.345],[1.517,1.302],[1.556,1.203],[1.531,1.116],[1.448,1.082],[1.351,1.116],[1.303,1.203],[1.338,1.302]];
var bFar0833Bot = [[1.428,-1.51],[1.531,-1.476],[1.6,-1.389],[1.649,-1.217],[1.635,-1.118],[1.559,-1.044],[1.434,-1.007],[1.296,-1.013],[1.172,-1.068],[1.13,-1.155],[1.172,-1.278],[1.241,-1.402],[1.338,-1.488]];
var bFar10Bot = [[1.434,-1.352],[1.517,-1.303],[1.556,-1.204],[1.531,-1.118],[1.448,-1.087],[1.351,-1.118],[1.303,-1.204],[1.338,-1.303]];

var bPosLevels = [[bPos0333], [bPos05], [bPos0667], [bPos0833], [bPos10], [bPos1167], [bPos1333], [bPos15], [bPos1667], [bPos1833], [bPos20], [bPos2167]];
var bNegLevels = [[bNeg0833, bFar0833Top, bFar0833Bot], [bNeg10, bFar10Top, bFar10Bot], [bNeg1167], [bNeg1333], [bNeg15], [bNeg1667], [bNeg1833], [bNeg20], [bNeg2167], [bNeg2333], [bNeg25], [bNeg2667], [bNeg2833Top, bNeg2833Bot], [bRiseTop, bRiseBot, bNeg30Top, bNeg30Bot], [bNeg3167]];
// bRise* are the slightly shallower pockets against the square, painted in the 2.667 colour
var bLines = [bPos05, bPos15, bNeg05, bNeg15, bNeg25, bFarTop, bFarBot, bOvalTop, bOvalBot, bDotTop, bDotBot];
var bOpenLines = [bEdgeTop, bEdgeBot];
var bSquare = [[-.5, -.513], [.5, -.513], [.5, .503], [-.5, .503]];
var bArrow = [[-1.91, -.034], [-1.446, -.034], [-1.446, .01], [-1.266, -.092], [-1.446, -.193], [-1.446, -.15], [-1.91, -.15]];

var SERIF = '"Liberation Serif", "Times New Roman", serif';
Chart.defaults.font.family = SERIF;
Chart.defaults.color = '#000';
Chart.defaults.animation = false;

var page = document.getElementById('page');

function addCanvas(left, top, width, height) {
    var c = document.createElement('canvas');
    c.width = width;
    c.height = height;
    c.style.left = left + 'px';
    c.style.top = top + 'px';
    c.style.width = width + 'px';
    c.style.height = height + 'px';
    page.appendChild(c);
    return c;
}

function addNote(text, left, baseline, size) {
    var d = document.createElement('div');
    d.className = 'note';
    d.textContent = text;
    d.style.left = left + 'px';
    d.style.top = (baseline - size * 0.8375) + 'px';
    d.style.fontSize = size + 'px';
    page.appendChild(d);
}

function addTag(left, top, width, height) {
    var d = document.createElement('div');
    d.className = 'tag';
    d.style.left = left + 'px';
    d.style.top = top + 'px';
    d.style.width = width + 'px';
    d.style.height = height + 'px';
    page.appendChild(d);
}

function closed(points) {
    return points.concat([points[0]]);
}

function fillLoop(points, color) {
    return { data: closed(points), showLine: true, fill: 'shape', backgroundColor: color, borderWidth: 0, pointRadius: 0, tension: 0.3 };
}

function greyLine(points) {
    return { data: points, showLine: true, fill: false, borderColor: '#6b6b6b', borderWidth: 3, pointRadius: 0, tension: 0.3, clip: 0 };
}

function fieldDatasets(posLevels, negLevels, lines, openLines, square, arrow) {
    var list = [fillLoop(fieldEdge, '#00ff00')];
    list[0].tension = 0;
    posLevels.forEach(function (loops, i) {
        loops.forEach(function (p) { list.push(fillLoop(p, posColors[i])); });
    });
    negLevels.forEach(function (loops, i) {
        loops.forEach(function (p) {
            // pockets that rise back to the 2.667 level
            var color = (p === bRiseTop || p === bRiseBot) ? negColors[11] : negColors[i];
            list.push(fillLoop(p, color));
        });
    });
    lines.forEach(function (p) { list.push(greyLine(closed(p))); });
    openLines.forEach(function (p) { list.push(greyLine(p)); });
    var sq = fillLoop(square, '#808000');
    sq.tension = 0;
    list.push(sq);
    list.push({ data: closed(arrow), showLine: true, fill: false, borderColor: '#000', borderWidth: 10, borderJoinStyle: 'miter', pointRadius: 0, tension: 0 });
    list.push({ data: closed(fieldEdge), showLine: true, fill: false, borderColor: '#000', borderWidth: 6, borderJoinStyle: 'miter', pointRadius: 0, tension: 0, clip: 8 });
    // chart.js paints the first dataset last
    return list.reverse();
}

function tickAxis(position, values, length, extent, showLabels, weight) {
    var axis = {
        type: 'linear',
        position: position,
        min: -2,
        max: 2,
        weight: weight,
        border: { display: false },
        grid: { drawOnChartArea: false, drawTicks: true, tickLength: length, tickWidth: 6, tickColor: '#000' },
        ticks: {
            display: showLabels,
            autoSkip: false,
            maxRotation: 0,
            font: { size: 50 },
            color: '#000',
            padding: 18,
            callback: function (v) { return v.toFixed(1); }
        },
        afterBuildTicks: function (scale) {
            scale.ticks = values.map(function (v) { return { value: v }; });
        },
        afterFit: function (scale) {
            if (position === 'bottom') scale.height = extent; else scale.width = extent;
            // keep the plot box where it is, tick labels may overhang
            scale.paddingLeft = scale.paddingRight = scale.paddingTop = scale.paddingBottom = 0;
        }
    };
    return axis;
}

function drawField(cfg) {
    var canvas = addCanvas(cfg.canvasLeft, 0, cfg.canvasWidth, 1525);
    var xAxis = tickAxis('bottom', majorTicks, 25, 1525 - cfg.bottom, true, 1);
    var yAxis = tickAxis('left', majorTicks, 25, cfg.left - cfg.canvasLeft, true, 1);
    xAxis.title = { display: true, text: 'x/D', font: { size: 62, style: 'italic' }, color: '#000', padding: { top: 0, bottom: cfg.xTitlePad } };
    yAxis.title = { display: true, text: 'y/D', font: { size: 62, style: 'italic' }, color: '#000', padding: { top: cfg.yTitlePad, bottom: 0 } };
    new Chart(canvas, {
        type: 'scatter',
        data: { datasets: fieldDatasets(cfg.pos, cfg.neg, cfg.lines, cfg.openLines, cfg.square, cfg.arrow) },
        options: {
            responsive: false,
            animation: false,
            events: [],
            layout: { padding: { left: 0, top: cfg.top, right: cfg.canvasLeft + cfg.canvasWidth - cfg.right, bottom: 0 } },
            plugins: { legend: { display: false }, tooltip: { enabled: false } },
            scales: {
                x: xAxis,
                y: yAxis,
                xMinor: tickAxis('bottom', minorTicks, 13, 0, false, 0),
                yMinor: tickAxis('left', minorTicks, 13, 0, false, 0)
            }
        }
    });
}

function drawColorbar(cfg) {
    var width = 340, height = 1400, left = cfg.left - 30;
    var canvas = addCanvas(left, 0, width, height);
    var datasets = [{ data: [[-3.5, 2.5]], backgroundColor: 'rgba(0,0,0,0)', borderColor: '#000', borderWidth: 4, borderSkipped: false, grouped: false, barPercentage: 1, categoryPercentage: 1, clip: 4 }];
    bandColors.forEach(function (color, i) {
        datasets.push({ data: [[bandEdges[i], bandEdges[i + 1]]], backgroundColor: color, borderWidth: 0, grouped: false, barPercentage: 1, categoryPercentage: 1 });
    });
    new Chart(canvas, {
        type: 'bar',
        data: { labels: [''], datasets: datasets },
        options: {
            responsive: false,
            animation: false,
            events: [],
            layout: { padding: { left: 30, top: cfg.top, right: 0, bottom: height - cfg.bottom } },
            plugins: { legend: { display: false }, tooltip: { enabled: false } },
            scales: {
                x: { display: false },
                y: {
                    position: 'right',
                    min: -3.5,
                    max: 2.5,
                    border: { display: false },
                    grid: { drawOnChartArea: false, tickLength: 22, tickWidth: 5, tickColor: '#000' },
                    ticks: {
                        autoSkip: false,
                        font: { size: 50 },
                        color: '#000',
                        padding: 20,
                        callback: function (v) { return v.toFixed(1); }
                    },
                    afterBuildTicks: function (scale) {
                        scale.ticks = colorbarTicks.map(function (v) { return { value: v }; });
                    },
                    afterFit: function (scale) { scale.width = width - 30 - (cfg.right - cfg.left); }
                }
            }
        }
    });
}

drawField({ canvasLeft: 0, canvasWidth: 1545, left: 217.5, right: 1500.5, top: 86, bottom: 1318, xTitlePad: 10, yTitlePad: 4, pos: aPosLevels, neg: aNegLevels, lines: aLines, openLines: [], square: aSquare, arrow: aArrow });
drawField({ canvasLeft: 1880, canvasWidth: 1560, left: 2106.3, right: 3398, top: 86, bottom: 1327, xTitlePad: 3, yTitlePad: 14, pos: bPosLevels, neg: bNegLevels, lines: bLines, openLines: bOpenLines, square: bSquare, arrow: bArrow });
drawColorbar({ left: 1549, right: 1686, top: 115, bottom: 1307.6 });
drawColorbar({ left: 3428, right: 3566, top: 106, bottom: 1306 });

addNote('Packed sediment height change (cm)', 890, 66, 63.2);
addNote('Packed sediment height change (cm)', 2765, 58, 63.4);
addTag(336, 139.5, 293, 90);
addTag(2225, 139.5, 300, 90.5);
addNote('(a) Test 1', 364, 206, 63.5);
addNote('(b) Test 2', 2253.6, 205.5, 63.5);
addNote('Currents', 263, 650, 58.5);
addNote('Currents', 2127, 676, 59);
</script>
</body>
</html>
